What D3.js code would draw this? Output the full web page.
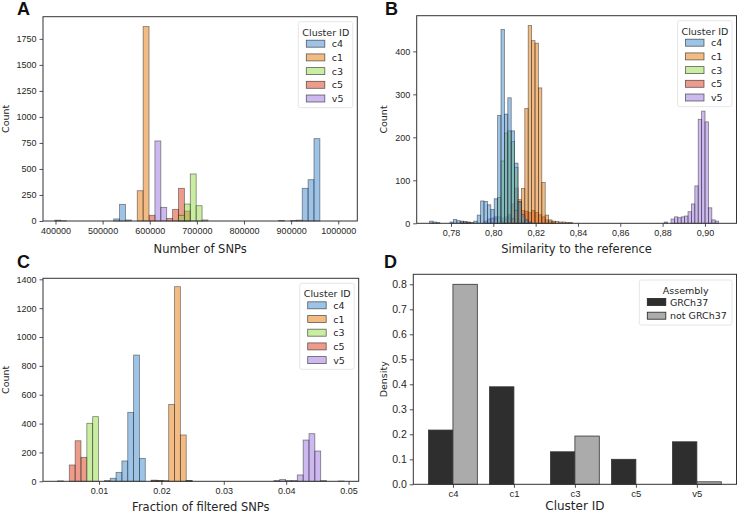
<!DOCTYPE html>
<html>
<head>
<meta charset="utf-8">
<script src="https://cdn.jsdelivr.net/npm/d3@7/dist/d3.min.js"></script>
<style>
  body { margin: 0; background: #fff; }
  svg { display: block; font-family: "DejaVu Sans", sans-serif; }
</style>
</head>
<body>
<div id="chart"></div>
<script>
// Cluster order and colours (drawn with 50% alpha, like the original)
const clusters = ["c4", "c1", "c3", "c5", "v5"];
const clusterColors = ["#3b87cf", "#e8770a", "#94dc44", "#dc3a18", "#9c72e0"];

// Panel A: number of SNPs, common bins
const aBinStart = 398500, aBinWidth = 12500;
const aCounts = {
  c4: [8,3,0,0,0,0,0,0,0,0,20,160,10,0,0,0,0,0,0,0,0,0,0,0,0,0,0,0,0,0,0,0,0,0,0,0,0,0,5,0,5,8,314,397,791],
  c1: [0,0,0,0,0,0,0,0,0,0,0,0,0,0,291,1868,0,0,0,0,0,0,0,0,0,0,0,0,0,0,0,0,0,0,0,0,0,0,0,0,0,0,0,0,0],
  c3: [0,0,0,0,0,0,0,0,0,0,0,0,0,0,0,0,0,0,0,0,0,55,163,452,147,10,0,0,0,0,0,0,0,0,0,0,0,0,0,0,0,0,0,0,0],
  c5: [0,0,0,0,0,0,0,0,0,0,0,0,0,0,0,0,55,0,0,25,112,314,96,0,0,0,0,0,0,0,0,0,0,0,0,0,0,0,0,0,0,0,0,0,0],
  v5: [0,0,0,0,0,0,0,0,0,0,0,0,0,0,0,0,0,769,131,0,0,0,0,0,0,0,0,0,0,0,0,0,0,0,0,0,0,0,0,0,0,0,0,0,0]
};
const aXTicks = [400000, 500000, 600000, 700000, 800000, 900000, 1000000];
const aYTicks = [0, 250, 500, 750, 1000, 1250, 1500, 1750];

// Panel B: similarity to the reference
const bBinStart = 0.76989, bBinWidth = 0.0016068;
const bCounts = {
  c4: [5,3,2,0,0,0,3,9,6,5,4,2,0,5,19,52,51,43,32,57,251,451,254,292,215,140,50,20,8,3,0,0,0,0,0,0,0,0,0,0,0,0,0,0,0,0,0,0,0,0,0,0,0,0,0,0,0,0,0,0,0,0,0,0,0,0,0,0,0,0,0,0,0,0,0,0,0,0,0,0,0,0,0,0,0,0,0],
  c1: [0,0,0,0,0,0,0,0,0,0,0,0,0,0,0,0,0,0,0,0,0,0,0,0,10,30,55,81,267,460,425,419,315,95,19,8,5,4,3,3,2,2,0,0,0,0,0,0,0,0,0,0,0,0,0,0,0,0,0,0,0,0,0,0,0,0,0,0,0,0,0,0,0,0,0,0,0,0,0,0,0,0,0,0,0,0,0],
  c3: [0,0,0,0,0,0,0,0,0,0,0,0,0,0,0,0,0,0,0,10,60,145,210,215,190,130,50,15,5,0,0,0,0,0,0,0,0,0,0,0,0,0,0,0,0,0,0,0,0,0,0,0,0,0,0,0,0,0,0,0,0,0,0,0,0,0,0,0,0,0,0,0,0,0,0,0,0,0,0,0,0,0,0,0,0,0,0],
  c5: [0,0,0,0,0,0,0,0,0,3,3,3,2,0,0,0,0,0,0,0,0,5,10,20,45,82,50,30,28,25,30,25,20,15,8,5,3,0,0,0,0,0,0,0,0,0,0,0,0,0,0,0,0,0,0,0,0,0,0,0,0,0,0,0,0,0,0,0,0,0,0,0,0,0,0,0,0,0,0,0,0,0,0,0,0,0,0],
  v5: [0,0,0,0,0,0,0,0,0,0,0,0,0,0,0,0,5,10,12,15,15,12,15,14,12,10,8,5,0,0,0,0,0,0,0,0,0,0,0,0,0,0,0,0,0,0,0,0,0,0,0,0,0,0,0,0,0,0,0,0,0,0,0,0,0,0,0,0,0,3,0,10,15,13,15,17,27,45,87,242,261,236,36,8,5,0,0]
};
const bXTicks = [0.78, 0.80, 0.82, 0.84, 0.86, 0.88, 0.90];
const bYTicks = [0, 100, 200, 300, 400];

// Panel C: fraction of filtered SNPs
const cBinStart = 0.003365, cBinWidth = 0.000937;
const cCounts = {
  c4: [0,0,0,0,0,0,0,0,5,21,62,141,478,875,159,0,0,0,0,0,0,0,5,0,0,0,0,0,0,0,0,0,0,0,0,0,0,0,0,0,0,0,0,0,0,0,0,0,0],
  c1: [0,0,0,0,0,0,0,0,0,0,0,0,0,0,0,0,5,5,5,533,1349,321,5,0,0,0,0,0,0,0,0,0,0,0,0,0,0,0,0,0,0,0,0,0,0,0,0,0,0],
  c3: [0,0,0,0,0,402,448,0,0,0,0,0,0,0,0,0,0,0,0,0,0,0,0,0,0,0,0,0,0,0,0,0,0,0,0,0,0,0,0,0,0,0,0,0,0,0,0,0,0],
  c5: [3,0,113,281,166,0,0,0,0,0,0,0,0,0,0,0,8,5,0,0,0,0,0,0,0,0,0,0,0,0,0,0,0,0,0,0,0,0,0,0,0,0,0,0,0,0,0,0,0],
  v5: [0,0,0,0,0,0,0,0,0,0,0,0,0,0,0,0,0,0,0,0,0,0,0,0,0,0,0,0,0,0,0,0,0,0,0,0,0,5,12,5,5,44,286,330,210,5,0,0,2]
};
const cXTicks = [0.01, 0.02, 0.03, 0.04, 0.05];
const cYTicks = [0, 200, 400, 600, 800, 1000, 1200, 1400];

// Panel D: density per assembly
const assemblies = ["GRCh37", "not GRCh37"];
const assemblyColors = ["#2e2e2e", "#ababab"];
const dGRCh37 = [0.217, 0.39, 0.13, 0.10, 0.17];
const dNotGRCh37 = [0.80, 0, 0.193, 0, 0.01];
const dYTicks = [0, 0.1, 0.2, 0.3, 0.4, 0.5, 0.6, 0.7, 0.8];

const svg = d3.select("#chart").append("svg")
  .attr("width", 738).attr("height", 513);

function styleAxis(g, size) {
  g.select(".domain").remove();
  g.selectAll(".tick line").attr("stroke", "#262626").attr("stroke-width", 0.8);
  g.selectAll(".tick text").attr("fill", "#262626").style("font-size", size + "px");
}

function frame(x0, x1, y0, y1) {
  svg.append("rect")
    .attr("x", x0).attr("y", y0)
    .attr("width", x1 - x0).attr("height", y1 - y0)
    .attr("fill", "none").attr("stroke", "#333").attr("stroke-width", 1);
}

function legend(x0, y0, w, h, title, names, fills, opacity, textX, titleX) {
  const g = svg.append("g");
  g.append("rect").attr("x", x0).attr("y", y0).attr("width", w).attr("height", h)
    .attr("fill", "#fff").attr("fill-opacity", 0.8).attr("stroke", "#e6e6e6").attr("rx", 2);
  g.append("text").attr("x", titleX).attr("y", y0 + 14).attr("text-anchor", "middle")
    .style("font-size", "9.5px").attr("fill", "#262626").text(title);
  names.forEach((n, i) => {
    const cy = y0 + 22 + i * 13.7;
    g.append("rect").attr("x", x0 + 8).attr("y", cy - 3.5).attr("width", 18.5).attr("height", 7)
      .attr("fill", fills[i]).attr("fill-opacity", opacity)
      .attr("stroke", "#222").attr("stroke-opacity", opacity < 1 ? 0.7 : 1).attr("stroke-width", 0.8);
    g.append("text").attr("x", textX).attr("y", cy + 3.5)
      .style("font-size", "9.5px").attr("fill", "#262626").text(n);
  });
}

function histPanel(opts) {
  const x = d3.scaleLinear().domain(opts.xDomain).range([opts.left, opts.right]);
  const y = d3.scaleLinear().domain(opts.yDomain).range([opts.bottom, opts.top]);

  // draw later clusters first so c4 ends on top
  clusters.slice().reverse().forEach(name => {
    const ci = clusters.indexOf(name);
    const counts = opts.counts[name];
    const bins = counts.map((c, k) => ({ k, c })).filter(d => d.c > 0);
    svg.append("g").selectAll("rect").data(bins).join("rect")
      .attr("x", d => x(opts.binStart + d.k * opts.binWidth))
      .attr("width", d => x(opts.binStart + (d.k + 1) * opts.binWidth) - x(opts.binStart + d.k * opts.binWidth))
      .attr("y", d => y(d.c))
      .attr("height", d => opts.bottom - y(d.c))
      .attr("fill", clusterColors[ci]).attr("fill-opacity", 0.5)
      .attr("stroke", "#222").attr("stroke-opacity", 0.55).attr("stroke-width", 0.8);
  });

  const xa = svg.append("g").attr("transform", `translate(0,${opts.bottom})`)
    .call(d3.axisBottom(x).tickValues(opts.xTicks).tickFormat(opts.xFormat)
      .tickSize(3.5).tickPadding(3));
  styleAxis(xa, 9);
  const ya = svg.append("g").attr("transform", `translate(${opts.left},0)`)
    .call(d3.axisLeft(y).tickValues(opts.yTicks).tickFormat(d3.format("d"))
      .tickSize(3.5).tickPadding(3));
  styleAxis(ya, 9);

  frame(opts.left, opts.right, opts.top, opts.bottom);

  svg.append("text").attr("x", (opts.left + opts.right) / 2).attr("y", opts.bottom + opts.xLabelGap)
    .attr("text-anchor", "middle").style("font-size", "11.5px").attr("fill", "#262626")
    .text(opts.xLabel);
  svg.append("text")
    .attr("transform", `translate(${opts.yLabelX},${(opts.top + opts.bottom) / 2}) rotate(-90)`)
    .attr("text-anchor", "middle").style("font-size", "9.5px").attr("fill", "#262626")
    .text("Count");

  legend(opts.right - 59, opts.top + 5, 54.5, 86, "Cluster ID", clusters, clusterColors, 0.5,
    opts.right - 25.5, opts.right - 31.5);
}

histPanel({
  left: 43, right: 357.3, top: 16.7, bottom: 221,
  xDomain: [373500, 1040400], yDomain: [0, 1963],
  binStart: aBinStart, binWidth: aBinWidth, counts: aCounts,
  xTicks: aXTicks, yTicks: aYTicks, xFormat: d3.format("d"),
  xLabel: "Number of SNPs", xLabelGap: 32, yLabelX: 9
});

histPanel({
  left: 416.7, right: 736.5, top: 15.7, bottom: 223.3,
  xDomain: [0.76379, 0.91492], yDomain: [0, 483],
  binStart: bBinStart, binWidth: bBinWidth, counts: bCounts,
  xTicks: bXTicks, yTicks: bYTicks, xFormat: d => d3.format(".2f")(d).replace(".", ","),
  xLabel: "Similarity to the reference", xLabelGap: 29.5, yLabelX: 387
});

histPanel({
  left: 43, right: 358.7, top: 278.3, bottom: 481.3,
  xDomain: [0.001026, 0.05162], yDomain: [0, 1407],
  binStart: cBinStart, binWidth: cBinWidth, counts: cCounts,
  xTicks: cXTicks, yTicks: cYTicks, xFormat: d3.format(".2f"),
  xLabel: "Fraction of filtered SNPs", xLabelGap: 30, yLabelX: 9
});

// Panel D
(function () {
  const left = 413.3, right = 736.5, top = 274.3, bottom = 484.3;
  const x = d3.scaleLinear().domain([-0.65, 4.65]).range([left, right]);
  const y = d3.scaleLinear().domain([0, 0.84]).range([bottom, top]);
  const series = [dGRCh37, dNotGRCh37];
  series.forEach((vals, s) => {
    svg.append("g").selectAll("rect").data(vals).join("rect")
      .attr("x", (d, i) => x(i - 0.4 + s * 0.4))
      .attr("width", x(0.4) - x(0))
      .attr("y", d => y(d))
      .attr("height", d => bottom - y(d))
      .attr("fill", assemblyColors[s])
      .attr("stroke", "#333").attr("stroke-width", 0.8);
  });
  const xa = svg.append("g").attr("transform", `translate(0,${bottom})`)
    .call(d3.axisBottom(x).tickValues(d3.range(clusters.length))
      .tickFormat(i => clusters[i]).tickSize(3.5).tickPadding(2.5));
  styleAxis(xa, 9.5);
  const ya = svg.append("g").attr("transform", `translate(${left},0)`)
    .call(d3.axisLeft(y).tickValues(dYTicks).tickFormat(d3.format(".1f"))
      .tickSize(3.5).tickPadding(3));
  styleAxis(ya, 10.5);
  frame(left, right, top, bottom);
  svg.append("text").attr("x", (left + right) / 2).attr("y", bottom + 25.5)
    .attr("text-anchor", "middle").style("font-size", "12px").attr("fill", "#262626")
    .text("Cluster ID");
  svg.append("text")
    .attr("transform", `translate(387,${(top + bottom) / 2}) rotate(-90)`)
    .attr("text-anchor", "middle").style("font-size", "9.5px").attr("fill", "#262626")
    .text("Density");
  legend(639.3, 280, 92.7, 45, "Assembly", assemblies, assemblyColors, 1, 670, 685.7);
})();

// Panel letters
[["A", 17, 15], ["B", 385, 15], ["C", 17, 268], ["D", 384, 268]].forEach(([t, x, y]) => {
  svg.append("text").attr("x", x).attr("y", y)
    .style("font-family", "'Liberation Sans', Arial, sans-serif")
    .style("font-size", "18px").style("font-weight", "bold").attr("fill", "#111").text(t);
});
</script>
</body>
</html>
